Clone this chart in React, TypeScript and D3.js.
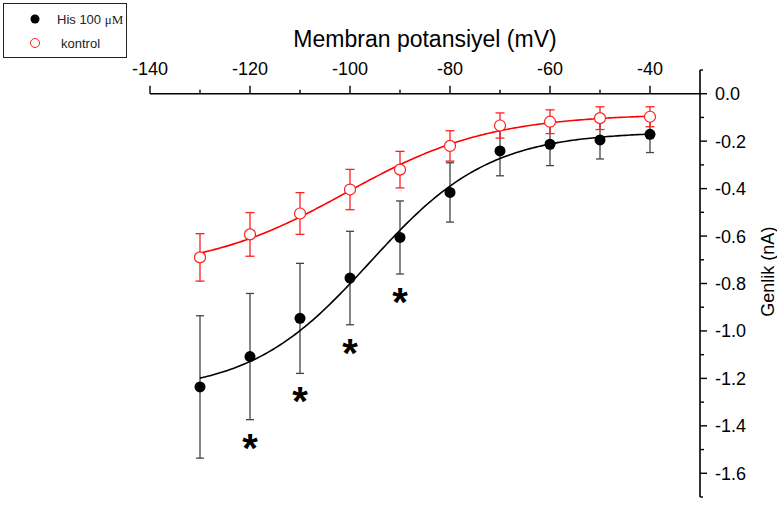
import React from 'react'
import * as d3 from 'd3'

const width = 777
const height = 505

// membrane potential steps (mV)
const voltages = [-130, -120, -110, -100, -90, -80, -70, -60, -50, -40]
const hisMean = [-1.236, -1.108, -0.947, -0.777, -0.606, -0.416, -0.241, -0.213, -0.195, -0.171]
const hisErr = [0.3, 0.266, 0.232, 0.197, 0.154, 0.125, 0.105, 0.09, 0.08, 0.077]
const kontrolMean = [-0.69, -0.593, -0.505, -0.404, -0.32, -0.22, -0.134, -0.118, -0.103, -0.097]
const kontrolErr = [0.1, 0.092, 0.088, 0.085, 0.077, 0.064, 0.053, 0.05, 0.048, 0.042]
const significant = [false, true, true, true, true, false, false, false, false, false]

// Boltzmann fit parameters [A1, A2, V50, k]
const hisFit = [-1.26, -0.16, -96, 12]
const kontrolFit = [-0.75, -0.085, -100.8, 14.5]

const xTicks = [-140, -120, -100, -80, -60, -40]
const xMinor = [-130, -110, -90, -70, -50]
const yTicks = [0, -0.2, -0.4, -0.6, -0.8, -1.0, -1.2, -1.4, -1.6]
const yMinor = [-0.1, -0.3, -0.5, -0.7, -0.9, -1.1, -1.3, -1.5]

const x = d3.scaleLinear().domain([-140, -30]).range([150, 700])
const y = d3.scaleLinear().domain([0.1, -1.7]).range([70, 497])

const boltzmann = (p: number[]) => (v: number) => p[1] + (p[0] - p[1]) / (1 + Math.exp((v - p[2]) / p[3]))

const fitLine = (p: number[]) => {
  const f = boltzmann(p)
  const vs = d3.range(-130, -39.5, 0.5)
  return d3.line<number>().x(v => x(v)).y(v => y(f(v)))(vs) as string
}

const font = '"Liberation Sans", Arial, sans-serif'

export default function App() {
  const axisY = y(0)
  const axisX = x(-30)
  return (
    <svg width={width} height={height} style={{ position: 'absolute', left: 0, top: 0, background: '#fff' }} fontFamily={font}>
      {/* top x axis */}
      <line x1={x(-140)} x2={axisX} y1={axisY} y2={axisY} stroke="#000" strokeWidth={1.6} />
      {xTicks.map(t => (
        <g key={t}>
          <line x1={x(t)} x2={x(t)} y1={axisY} y2={axisY - 8} stroke="#000" strokeWidth={1.4} />
          <text x={x(t)} y={75} textAnchor="middle" fontSize={18} fill="#000">{t}</text>
        </g>
      ))}
      {xMinor.map(t => (
        <line key={t} x1={x(t)} x2={x(t)} y1={axisY} y2={axisY - 4} stroke="#000" strokeWidth={1.4} />
      ))}
      <text x={(x(-140) + axisX) / 2} y={47} textAnchor="middle" fontSize={23} fill="#000">Membran potansiyel (mV)</text>

      {/* right y axis */}
      <line x1={axisX} x2={axisX} y1={y(0.1)} y2={y(-1.7)} stroke="#000" strokeWidth={1.6} />
      <line x1={axisX} x2={axisX + 3} y1={y(0.1)} y2={y(0.1)} stroke="#000" strokeWidth={1.4} />
      <line x1={axisX} x2={axisX + 3} y1={y(-1.7)} y2={y(-1.7)} stroke="#000" strokeWidth={1.4} />
      {yTicks.map(t => (
        <g key={t}>
          <line x1={axisX} x2={axisX + 7} y1={y(t)} y2={y(t)} stroke="#000" strokeWidth={1.4} />
          <text x={715} y={y(t) + 6.5} fontSize={18} fill="#000">{t.toFixed(1)}</text>
        </g>
      ))}
      {yMinor.map(t => (
        <line key={t} x1={axisX} x2={axisX + 4} y1={y(t)} y2={y(t)} stroke="#000" strokeWidth={1.4} />
      ))}
      <text transform={`translate(774,${y(-0.75)}) rotate(-90)`} textAnchor="middle" fontSize={18} fill="#000">Genlik (nA)</text>

      {/* His 100 µM */}
      {voltages.map((v, i) => (
        <g key={'he' + v} stroke="#444" strokeWidth={1.3}>
          <line x1={x(v)} x2={x(v)} y1={y(hisMean[i] + hisErr[i])} y2={y(hisMean[i] - hisErr[i])} />
          <line x1={x(v) - 4} x2={x(v) + 4} y1={y(hisMean[i] + hisErr[i])} y2={y(hisMean[i] + hisErr[i])} />
          <line x1={x(v) - 4} x2={x(v) + 4} y1={y(hisMean[i] - hisErr[i])} y2={y(hisMean[i] - hisErr[i])} />
        </g>
      ))}
      <path d={fitLine(hisFit)} fill="none" stroke="#000" strokeWidth={1.6} />
      {voltages.map((v, i) => (
        <circle key={'hd' + v} cx={x(v)} cy={y(hisMean[i])} r={5.5} fill="#000" />
      ))}
      {voltages.map((v, i) => significant[i] ? (
        <text key={'s' + v} x={x(v)} y={y(hisMean[i] - hisErr[i]) + 19 + 23} textAnchor="middle" fontSize={40} fontWeight="bold" fill="#000">*</text>
      ) : null)}

      {/* kontrol */}
      {voltages.map((v, i) => (
        <g key={'ke' + v} stroke="#ff2020" strokeWidth={1.3}>
          <line x1={x(v)} x2={x(v)} y1={y(kontrolMean[i] + kontrolErr[i])} y2={y(kontrolMean[i] - kontrolErr[i])} />
          <line x1={x(v) - 4.5} x2={x(v) + 4.5} y1={y(kontrolMean[i] + kontrolErr[i])} y2={y(kontrolMean[i] + kontrolErr[i])} />
          <line x1={x(v) - 4.5} x2={x(v) + 4.5} y1={y(kontrolMean[i] - kontrolErr[i])} y2={y(kontrolMean[i] - kontrolErr[i])} />
        </g>
      ))}
      <path d={fitLine(kontrolFit)} fill="none" stroke="#ff0000" strokeWidth={1.6} />
      {voltages.map((v, i) => (
        <circle key={'kd' + v} cx={x(v)} cy={y(kontrolMean[i])} r={5.5} fill="#fff" stroke="#ff2020" strokeWidth={1.2} />
      ))}

      {/* legend */}
      <rect x={3.5} y={3.5} width={123} height={54} fill="#fff" stroke="#222" strokeWidth={1} />
      <circle cx={35} cy={19} r={4.5} fill="#000" />
      <text x={57} y={24} fontSize={13} fill="#222">His 100 <tspan fontFamily='"Liberation Serif", serif'>μM</tspan></text>
      <circle cx={35} cy={43} r={4.5} fill="#fff" stroke="#ff2020" strokeWidth={1} />
      <text x={61} y={48} fontSize={13} fill="#222">kontrol</text>
    </svg>
  )
}
